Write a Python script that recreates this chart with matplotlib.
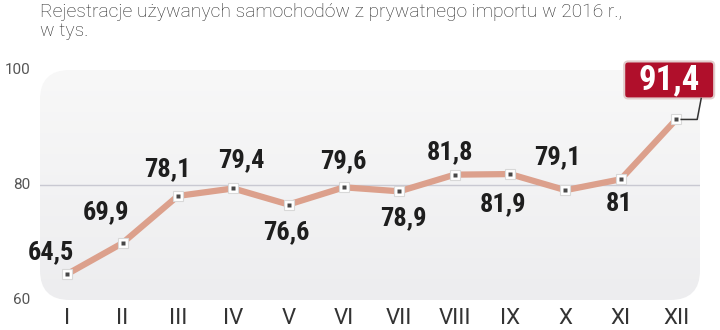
import numpy as np
import matplotlib.pyplot as plt
from matplotlib.patches import FancyBboxPatch
from matplotlib.lines import Line2D
from matplotlib.transforms import IdentityTransform, ScaledTranslation
from matplotlib.colors import LinearSegmentedColormap

# rejestracje używanych aut z importu, 2016, w tys.
months = ["I", "II", "III", "IV", "V", "VI", "VII", "VIII", "IX", "X", "XI", "XII"]
values = [64.5, 69.9, 78.1, 79.4, 76.6, 79.6, 78.9, 81.8, 81.9, 79.1, 81.0, 91.4]
labels = ["64,5", "69,9", "78,1", "79,4", "76,6", "79,6", "78,9", "81,8", "81,9", "79,1", "81", "91,4"]
yticks = [60, 80, 100]

# label offsets from the point, in pixels (up is positive)
offsets = [(-16, 22), (-16, 31), (-10, 27), (8, 28), (-2, -28), (-1, 26),
           (4, -27), (-5, 22), (-7, -30), (-8, 33), (-2, -25)]

bold_font = ["Noto Sans Condensed", "Roboto Condensed", "DejaVu Sans"]
light_font = ["Roboto", "DejaVu Sans"]

W, H = 720, 330
fig = plt.figure(figsize=(W / 100, H / 100), dpi=100)
ax = fig.add_axes([40 / W, (H - 300) / H, 660 / W, 230 / H])
ax.set_xlim(-0.49, 11.43)
ax.set_ylim(60, 100)
ax.axis("off")

# rounded panel with a soft vertical gradient
panel = FancyBboxPatch((0, 0), 1, 1, boxstyle="round,pad=0,rounding_size=0.045",
                       transform=ax.transAxes, facecolor="none", edgecolor="none",
                       mutation_aspect=660 / 230)
ax.add_patch(panel)
grad = np.linspace(0, 1, 256).reshape(-1, 1)
img = ax.imshow(grad, cmap=LinearSegmentedColormap.from_list("bg", ["#ededef", "#f8f8f8"]),
                extent=[0, 1, 0, 1], transform=ax.transAxes,
                origin="lower", aspect="auto", zorder=0)
img.set_clip_path(panel)

ax.axhline(80, color="#c9c9d2", lw=1, zorder=1)

x = np.arange(len(values))
ax.plot(x, values, color="#dca08c", lw=4.5, solid_joinstyle="miter", zorder=2)
ax.plot(x, values, ls="none", marker="s", ms=7, mfc="white", mec="#d8d8d8", mew=0.8, zorder=3)
ax.plot(x, values, ls="none", marker="s", ms=3.2, mfc="#484848", mec="none", zorder=4)

for i, (lab, off) in enumerate(zip(labels[:-1], offsets)):
    ax.annotate(lab, (x[i], values[i]), xytext=off, textcoords="offset pixels",
                ha="center", va="center", fontsize=19, fontweight="heavy",
                fontstretch="condensed", family=bold_font, color="#1e1e1e", zorder=5)

# highlighted December value in a red box, tied to its point by a thin elbow line
px, py = ax.transData.transform((x[-1], values[-1]))
box = FancyBboxPatch((px - 52, py + 21), 90, 37, boxstyle="round,pad=0,rounding_size=4",
                     transform=IdentityTransform(), fc="#b00f2b", ec="#e2cccc", lw=1.5,
                     zorder=6)
fig.add_artist(box)
fig.text((px - 7) / W, (py + 39.5) / H, labels[-1], ha="center", va="center",
         fontsize=25, fontweight="heavy", fontstretch="condensed", family=bold_font,
         color="white", zorder=8)
fig.add_artist(Line2D([px + 5, px + 21, px + 25], [py, py, py + 21],
                      transform=IdentityTransform(), color="#333333", lw=1.1, zorder=7))

for v in yticks:
    ax.text(-0.49 - 10 / 55.4, v, str(v), ha="right", va="center", fontsize=11,
            family=light_font, color="#555555")
shift = ScaledTranslation(0, -19 / 100, fig.dpi_scale_trans)
for i, m in enumerate(months):
    ax.text(x[i], 60, m, ha="center", va="center", fontsize=16, family=light_font,
            color="#333333", transform=ax.transData + shift)

fig.text(40 / W, 1 - 3 / H, "Rejestracje używanych samochodów z prywatnego importu w 2016 r.,\nw tys.",
         ha="left", va="top", fontsize=13.9, family=light_font, fontweight="light",
         color="#2a2a2a", linespacing=1.1)

fig.savefig("out.png", dpi=100)
